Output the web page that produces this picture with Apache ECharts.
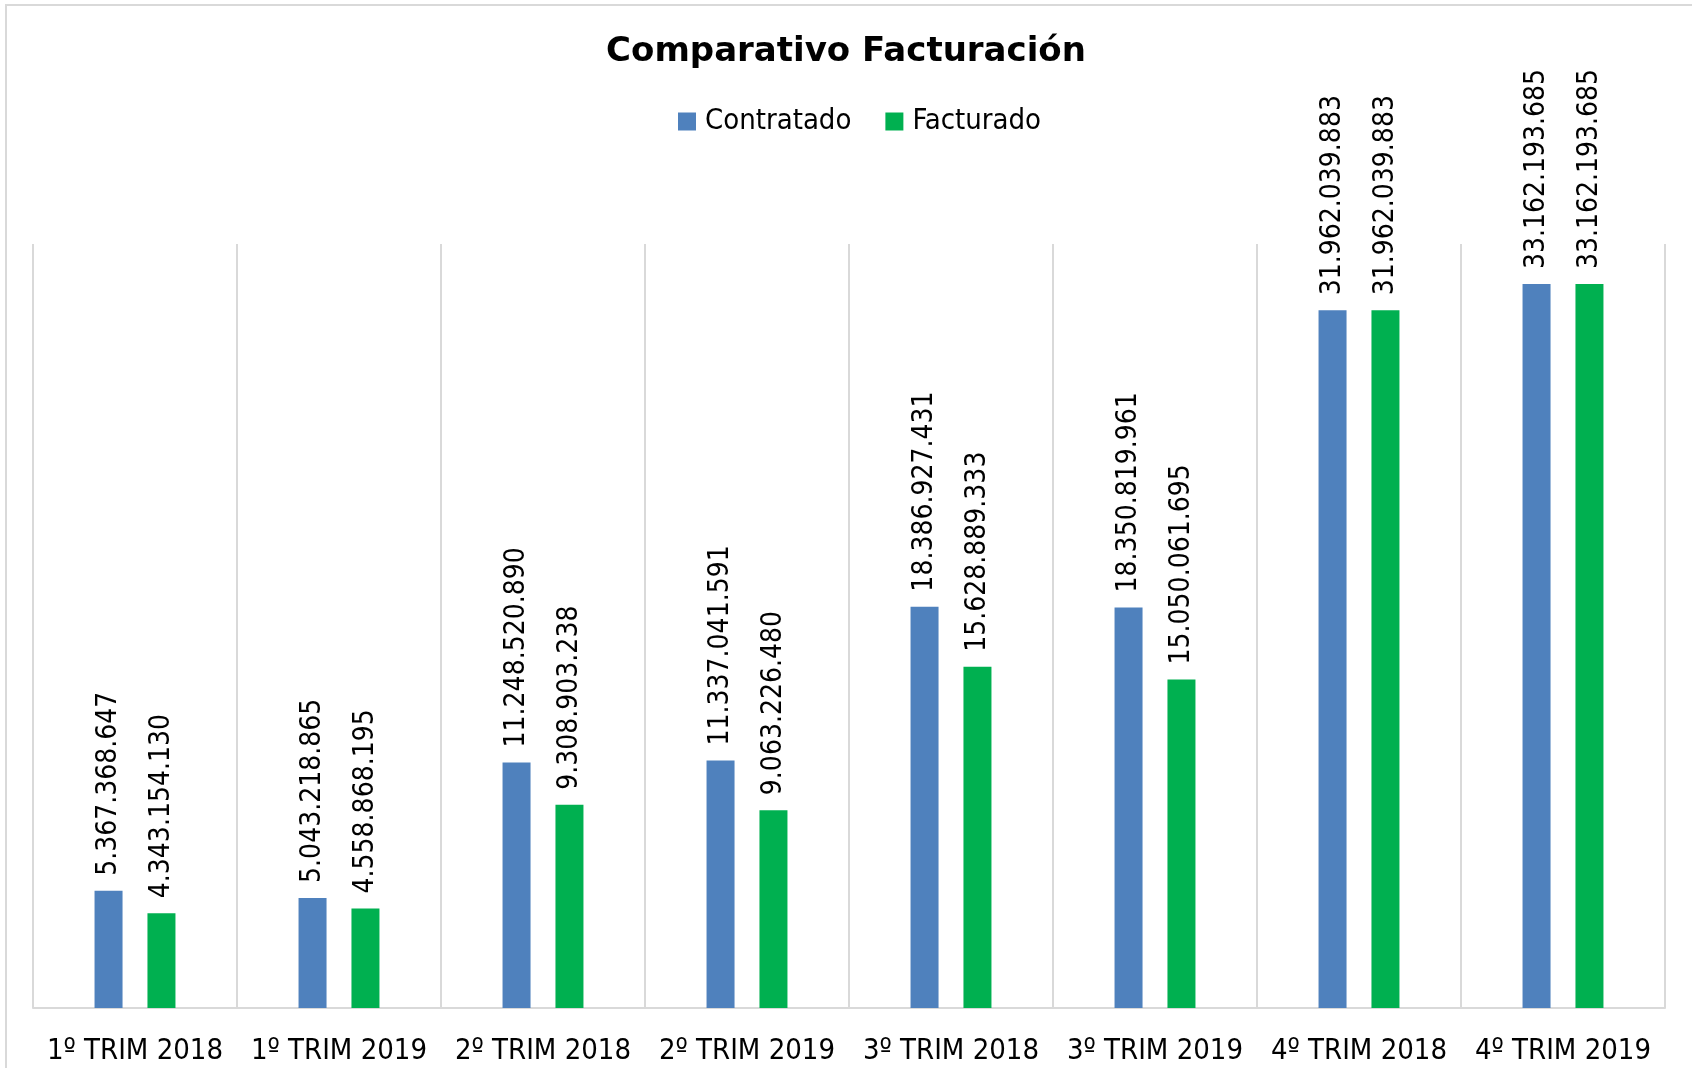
<!DOCTYPE html>
<html>
<head>
<meta charset="utf-8">
<script src="https://cdn.jsdelivr.net/npm/echarts@6/dist/echarts.min.js"></script>
<style>
  html, body { margin: 0; padding: 0; background: #fff; }
  #chart { width: 1692px; height: 1068px; }
</style>
</head>
<body>
<div id="chart"></div>
<script>
// datos
const categorias = ['1º TRIM 2018', '1º TRIM 2019', '2º TRIM 2018', '2º TRIM 2019',
  '3º TRIM 2018', '3º TRIM 2019', '4º TRIM 2018', '4º TRIM 2019']
const contratado = [5367368647, 5043218865, 11248520890, 11337041591,
  18386927431, 18350819961, 31962039883, 33162193685]
const facturado = [4343154130, 4558868195, 9308903238, 9063226480,
  15628889333, 15050061695, 31962039883, 33162193685]

const fuente = '"DejaVu Sans Condensed", "Liberation Sans Narrow", sans-serif'

// 5367368647 -> 5.367.368.647
const formato = (v) => String(v).replace(/\B(?=(\d{3})+(?!\d))/g, '.')

const chart = echarts.init(document.getElementById('chart'))

const etiqueta = {
  show: true,
  position: 'top',
  rotate: 90,
  align: 'left',
  verticalAlign: 'middle',
  distance: 15,
  fontFamily: fuente,
  fontSize: 28,
  color: '#000',
  formatter: (p) => formato(p.value)
}

const options = {
  animation: false,
  backgroundColor: '#fff',
  // borde del gráfico
  graphic: [{
    type: 'rect',
    shape: { x: 6, y: 5, width: 1700, height: 1100 },
    style: { fill: 'none', stroke: '#D9D9D9', lineWidth: 2 },
    silent: true
  }],
  title: {
    text: 'Comparativo Facturación',
    left: 'center',
    top: 30,
    textStyle: {
      fontFamily: '"DejaVu Sans", sans-serif',
      fontWeight: 'bold',
      fontSize: 34,
      color: '#000'
    }
  },
  legend: {
    top: 102,
    left: 673,
    icon: 'rect',
    itemWidth: 18,
    itemHeight: 18,
    itemGap: 34,
    textStyle: {
      fontFamily: fuente,
      fontSize: 29,
      color: '#000',
      padding: [0, 0, 0, 4]
    },
    data: ['Contratado', 'Facturado']
  },
  grid: {
    left: 33,
    right: 27,
    top: 244,
    bottom: 60,
    containLabel: false
  },
  xAxis: {
    type: 'category',
    data: categorias,
    axisLine: { show: true, lineStyle: { color: '#D9D9D9', width: 2 } },
    axisTick: { show: false },
    splitLine: { show: true, lineStyle: { color: '#D9D9D9', width: 2 } },
    axisLabel: {
      fontFamily: fuente,
      fontSize: 29,
      color: '#000',
      margin: 29,
      interval: 0
    }
  },
  yAxis: {
    type: 'value',
    min: 0,
    max: 35000000000,
    show: false,
    splitLine: { show: false }
  },
  series: [
    {
      name: 'Contratado',
      type: 'bar',
      data: contratado,
      barWidth: 28,
      barGap: '89%',
      itemStyle: { color: '#4F81BD' },
      label: etiqueta
    },
    {
      name: 'Facturado',
      type: 'bar',
      data: facturado,
      barWidth: 28,
      itemStyle: { color: '#00B050' },
      label: etiqueta
    }
  ]
}

chart.setOption(options)
</script>
</body>
</html>
